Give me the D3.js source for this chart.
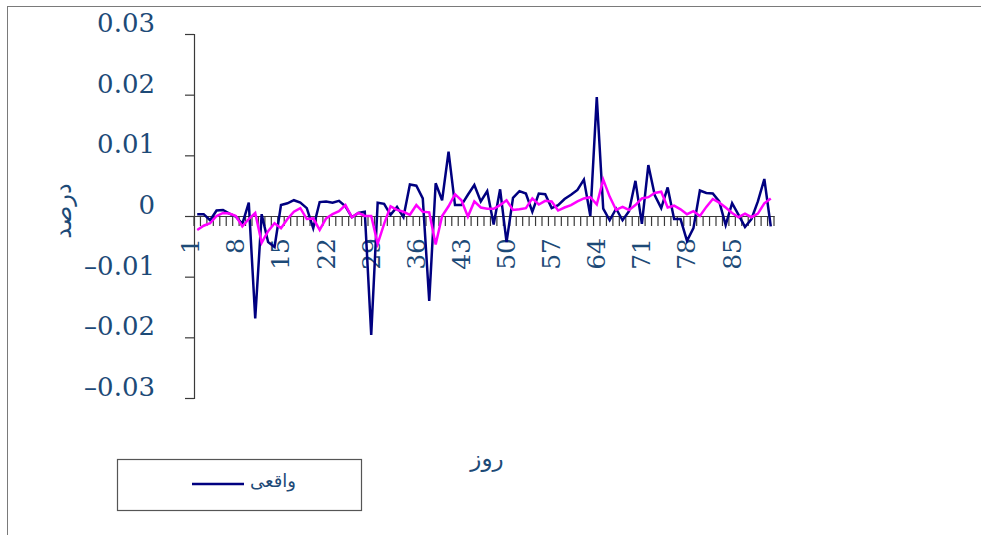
<!DOCTYPE html>
<html>
<head>
<meta charset="utf-8">
<script src="https://cdn.jsdelivr.net/npm/d3@7"></script>
<style>
  html, body { margin: 0; padding: 0; background: #fff; }
  svg { display: block; }
</style>
</head>
<body>
<svg id="chart" width="981" height="535"></svg>
<script>
// Daily values: actual vs. model output
const days = d3.range(1, 91);

const actual = [
  0.0003, 0.0003, -0.0007, 0.0009, 0.0010, 0.0004, -0.0001, -0.0013, 0.0022, -0.0169,
  0.0003, -0.0043, -0.0051, 0.0018, 0.0021, 0.0026, 0.0022, 0.0013, -0.0020, 0.0023,
  0.0024, 0.0022, 0.0025, 0.0016, -0.0002, 0.0005, 0.0007, -0.0196, 0.0022, 0.0020,
  0.0002, 0.0015, -0.0002, 0.0052, 0.0050, 0.0029, -0.0140, 0.0054, 0.0026, 0.0106,
  0.0018, 0.0018, 0.0035, 0.0051, 0.0024, 0.0041, -0.0014, 0.0044, -0.0043, 0.0030,
  0.0041, 0.0037, 0.0007, 0.0037, 0.0036, 0.0013, 0.0018, 0.0028, 0.0035, 0.0043,
  0.0060, 0.0000, 0.0196, 0.0012, -0.0007, 0.0012, -0.0007, 0.0008, 0.0058, -0.0013,
  0.0084, 0.0034, 0.0013, 0.0047, -0.0005, -0.0005, -0.0041, -0.0020, 0.0042, 0.0038,
  0.0037, 0.0024, -0.0015, 0.0021, 0.0002, -0.0018, -0.0005, 0.0024, 0.0061, -0.0017
];

const forecast = [
  -0.0023, -0.0016, -0.0012, 0.0000, 0.0005, 0.0004, 0.0000, -0.0017, -0.0005, 0.0005,
  -0.0044, -0.0025, -0.0012, -0.0020, -0.0005, 0.0007, 0.0013, -0.0005, -0.0004, -0.0023,
  -0.0004, 0.0003, 0.0008, 0.0018, -0.0002, 0.0005, 0.0000, 0.0000, -0.0046, -0.0013,
  0.0016, 0.0010, 0.0007, 0.0002, 0.0018, 0.0007, 0.0006, -0.0047, 0.0000, 0.0016,
  0.0036, 0.0026, -0.0001, 0.0024, 0.0014, 0.0012, 0.0012, 0.0018, 0.0026, 0.0010,
  0.0011, 0.0013, 0.0029, 0.0019, 0.0025, 0.0024, 0.0009, 0.0014, 0.0018, 0.0024,
  0.0029, 0.0031, 0.0019, 0.0060, 0.0032, 0.0010, 0.0015, 0.0010, 0.0018, 0.0029,
  0.0031, 0.0038, 0.0040, 0.0014, 0.0017, 0.0011, 0.0003, 0.0008, 0.0000, 0.0015,
  0.0028, 0.0022, 0.0014, 0.0005, -0.0002, 0.0004, -0.0002, 0.0004, 0.0021, 0.0029
];

const xTickDays = [1, 8, 15, 22, 29, 36, 43, 50, 57, 64, 71, 78, 85];
const yTickValues = [-0.03, -0.02, -0.01, 0, 0.01, 0.02, 0.03];
const yTickLabels = ["–0.03", "–0.02", "–0.01", "0", "0.01", "0.02", "0.03"];

const yTitle = "درصد";
const xTitle = "روز";
const legendLabel = "واقعی";

const textColor = "#1d4a77";
const axisColor = "#3a3a3a";
const serif = "'DejaVu Serif', 'Liberation Serif', serif";
const arabicFont = "'DejaVu Sans', sans-serif";

const svg = d3.select("#chart");

// chart frame
svg.append("rect")
  .attr("x", 7.5).attr("y", 6.5)
  .attr("width", 1000).attr("height", 600)
  .attr("fill", "none").attr("stroke", "#7a7a7a").attr("stroke-width", 1);

const plot = { left: 194, right: 774, top: 34, bottom: 398 };

const x = d3.scaleBand()
  .domain(days)
  .range([plot.left, plot.right])
  .paddingInner(0).paddingOuter(0);
const xc = d => x(d) + x.bandwidth() / 2;

const y = d3.scaleLinear()
  .domain([-0.03, 0.03])
  .range([plot.bottom, plot.top]);

// Y axis
const yAxis = svg.append("g")
  .attr("transform", `translate(${plot.left},0)`)
  .call(d3.axisLeft(y)
    .tickValues(yTickValues)
    .tickSize(9)
    .tickPadding(30)
    .tickFormat((d, i) => yTickLabels[i]));
yAxis.select(".domain").attr("stroke", axisColor).attr("stroke-width", 1.2);
yAxis.selectAll(".tick line").attr("stroke", axisColor).attr("stroke-width", 1.2);
yAxis.selectAll(".tick text")
  .attr("fill", textColor)
  .attr("font-family", serif)
  .attr("font-size", 26)
  .attr("y", -12)
  .attr("dy", "0.36em");

// X axis along zero
const zeroY = y(0);
const xAxis = svg.append("g")
  .attr("transform", `translate(0,${zeroY})`)
  .call(d3.axisBottom(x)
    .tickValues(xTickDays)
    .tickSize(0)
    .tickSizeOuter(0));
xAxis.select(".domain").attr("stroke", axisColor).attr("stroke-width", 1.2);
xAxis.selectAll(".tick text")
  .attr("fill", textColor)
  .attr("font-family", serif)
  .attr("font-size", 25)
  .attr("text-anchor", "end")
  .attr("x", 0).attr("y", 0).attr("dy", 0)
  .attr("transform", "translate(2,22) rotate(-90)");

// category separator ticks
const boundaries = d3.range(0, days.length + 1);
svg.append("g")
  .selectAll("line")
  .data(boundaries)
  .join("line")
  .attr("x1", i => plot.left + i * x.bandwidth())
  .attr("x2", i => plot.left + i * x.bandwidth())
  .attr("y1", zeroY)
  .attr("y2", zeroY + 10)
  .attr("stroke", axisColor)
  .attr("stroke-width", 1.2);

// series lines
const line = d3.line()
  .x((d, i) => xc(days[i]))
  .y(d => y(d));

svg.append("path")
  .datum(actual)
  .attr("d", line)
  .attr("fill", "none")
  .attr("stroke", "#000080")
  .attr("stroke-width", 2.5)
  .attr("stroke-linejoin", "miter");

svg.append("path")
  .datum(forecast)
  .attr("d", line)
  .attr("fill", "none")
  .attr("stroke", "#ff00ff")
  .attr("stroke-width", 2.5)
  .attr("stroke-linejoin", "miter");

// axis titles
svg.append("text")
  .attr("transform", "translate(64,211) rotate(-90)")
  .attr("text-anchor", "middle")
  .attr("dominant-baseline", "middle")
  .attr("fill", textColor)
  .attr("font-family", arabicFont)
  .attr("font-size", 24)
  .text(yTitle);

svg.append("text")
  .attr("x", 487).attr("y", 459)
  .attr("text-anchor", "middle")
  .attr("dominant-baseline", "middle")
  .attr("fill", textColor)
  .attr("font-family", arabicFont)
  .attr("font-size", 23)
  .text(xTitle);

// legend
const legend = svg.append("g");
legend.append("rect")
  .attr("x", 117.5).attr("y", 459.5)
  .attr("width", 244).attr("height", 51)
  .attr("fill", "#fff")
  .attr("stroke", "#555").attr("stroke-width", 1.2);
legend.append("line")
  .attr("x1", 192).attr("x2", 244)
  .attr("y1", 484).attr("y2", 484)
  .attr("stroke", "#000080").attr("stroke-width", 2.5);
legend.append("text")
  .attr("x", 273).attr("y", 482)
  .attr("text-anchor", "middle")
  .attr("dominant-baseline", "middle")
  .attr("fill", textColor)
  .attr("font-family", arabicFont)
  .attr("font-size", 18)
  .text(legendLabel);
</script>
</body>
</html>
